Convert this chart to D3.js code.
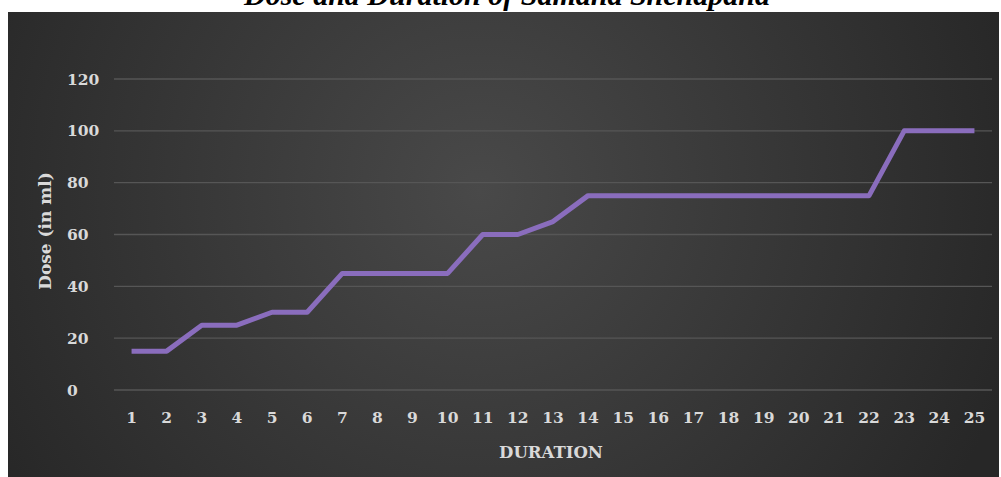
<!DOCTYPE html>
<html>
<head>
<meta charset="utf-8">
<script src="https://cdn.jsdelivr.net/npm/d3@7"></script>
<style>
  body { margin: 0; background: #fff; }
  svg { display: block; }
</style>
</head>
<body>
<svg width="1001" height="477"></svg>
<script>
const width = 1001, height = 477;
const svg = d3.select("svg");

// chart data
const days = d3.range(1, 26).map(String);
const doses = [15, 15, 25, 25, 30, 30, 45, 45, 45, 45, 60, 60, 65, 75, 75, 75, 75, 75, 75, 75, 75, 75, 100, 100, 100];
const yTicks = [0, 20, 40, 60, 80, 100, 120];

const title = "Dose and Duration of Samana Snehapana";
const serif = "'DejaVu Serif', serif";

// dark panel with soft centre glow
const defs = svg.append("defs");
const grad = defs.append("radialGradient")
  .attr("id", "bg")
  .attr("gradientUnits", "userSpaceOnUse")
  .attr("cx", 480).attr("cy", 190).attr("r", 560);
grad.append("stop").attr("offset", "0%").attr("stop-color", "#494949");
grad.append("stop").attr("offset", "100%").attr("stop-color", "#272727");

svg.append("rect")
  .attr("x", 8).attr("y", 12)
  .attr("width", 991).attr("height", height - 12)
  .attr("fill", "url(#bg)");

const x = d3.scalePoint()
  .domain(days)
  .range([114, 992])
  .padding(0.5);

const y = d3.scaleLinear()
  .domain([0, 120])
  .range([390, 79]);

// gridlines
svg.append("g")
  .selectAll("line")
  .data(yTicks)
  .join("line")
  .attr("x1", 114).attr("x2", 992)
  .attr("y1", d => y(d)).attr("y2", d => y(d))
  .attr("stroke", "#565656")
  .attr("stroke-width", 1.3);

// y tick labels (left aligned like the original)
svg.append("g")
  .selectAll("text")
  .data(yTicks)
  .join("text")
  .attr("x", 67)
  .attr("y", d => y(d))
  .attr("dy", "0.36em")
  .attr("fill", "#d9d9d9")
  .attr("font-family", serif)
  .attr("font-weight", "bold")
  .attr("font-size", 15.5)
  .text(d => d);

// x tick labels
svg.append("g")
  .selectAll("text")
  .data(days)
  .join("text")
  .attr("x", d => x(d))
  .attr("y", 423)
  .attr("text-anchor", "middle")
  .attr("fill", "#d9d9d9")
  .attr("font-family", serif)
  .attr("font-weight", "bold")
  .attr("font-size", 15.5)
  .text(d => d);

// the dose line
const line = d3.line()
  .x((d, i) => x(days[i]))
  .y(d => y(d));

svg.append("path")
  .datum(doses)
  .attr("d", line)
  .attr("fill", "none")
  .attr("stroke", "#8a6dbd")
  .attr("stroke-width", 5)
  .attr("stroke-linejoin", "round");

// axis titles
svg.append("text")
  .attr("x", 551).attr("y", 458)
  .attr("text-anchor", "middle")
  .attr("fill", "#d9d9d9")
  .attr("font-family", serif)
  .attr("font-weight", "bold")
  .attr("font-size", 16.5)
  .text("DURATION");

svg.append("text")
  .attr("transform", "translate(51,231) rotate(-90)")
  .attr("text-anchor", "middle")
  .attr("fill", "#d9d9d9")
  .attr("font-family", serif)
  .attr("font-weight", "bold")
  .attr("font-size", 17)
  .text("Dose (in ml)");

// chart title, cropped at the top of the picture as in the original
svg.append("text")
  .attr("x", 507).attr("y", 5)
  .attr("text-anchor", "middle")
  .attr("fill", "#000")
  .attr("font-family", "'Liberation Serif', serif")
  .attr("font-weight", "bold")
  .attr("font-style", "italic")
  .attr("font-size", 30)
  .text(title);
</script>
</body>
</html>
